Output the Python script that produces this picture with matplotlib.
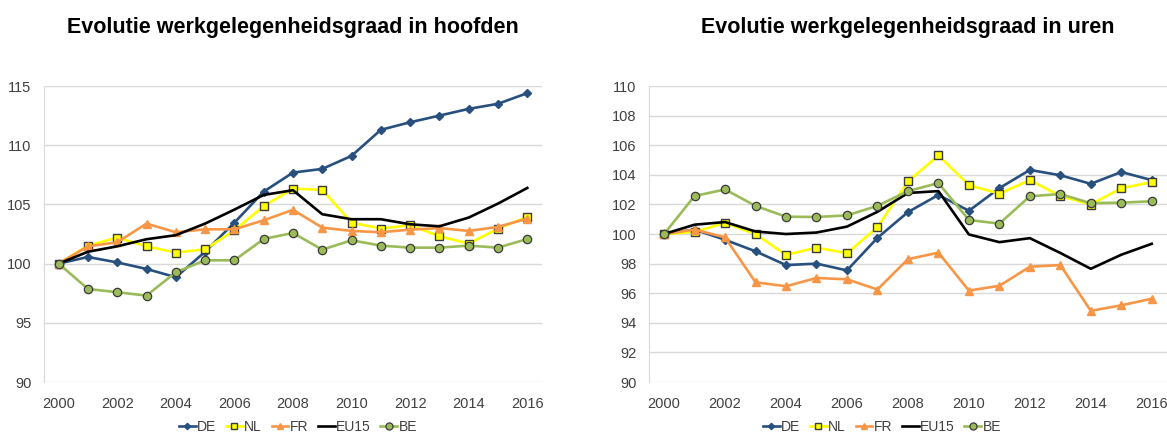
import numpy as np
import matplotlib
matplotlib.use('Agg')
import matplotlib.pyplot as plt

plt.rcParams['font.family'] = ['Liberation Sans', 'DejaVu Sans']

years = list(range(2000, 2017))

# werkgelegenheidsgraad in hoofden (2000 = 100)
de_heads = [100.0, 100.56, 100.1, 99.55, 98.85, 101.0, 103.46, 106.08, 107.69, 108.0,
            109.1, 111.3, 111.94, 112.5, 113.07, 113.5, 114.4]
nl_heads = [100.0, 101.52, 102.2, 101.46, 100.93, 101.21, 102.82, 104.85, 106.34, 106.23,
            103.46, 102.96, 103.24, 102.31, 101.69, 102.96, 103.94]
fr_heads = [100.0, 101.46, 101.8, 103.38, 102.65, 102.9, 102.9, 103.66, 104.54, 103.04,
            102.76, 102.65, 102.87, 103.0, 102.76, 103.1, 103.8]
eu15_heads = [100.0, 101.0, 101.46, 102.06, 102.4, 103.38, 104.56, 105.8, 106.2, 104.17,
              103.75, 103.75, 103.32, 103.15, 103.89, 105.07, 106.39]
be_heads = [100.0, 97.86, 97.58, 97.3, 99.27, 100.28, 100.28, 102.08, 102.59, 101.18,
            101.97, 101.52, 101.35, 101.35, 101.52, 101.35, 102.08]

# werkgelegenheidsgraad in uren (2000 = 100)
de_hours = [100.0, 100.3, 99.61, 98.83, 97.9, 98.0, 97.54, 99.74, 101.48, 102.64,
            101.57, 103.1, 104.33, 103.97, 103.39, 104.19, 103.64]
nl_hours = [100.0, 100.14, 100.75, 99.99, 98.59, 99.08, 98.7, 100.46, 103.55, 105.31,
            103.3, 102.73, 103.64, 102.57, 101.99, 103.1, 103.5]
fr_hours = [100.0, 100.3, 99.77, 96.74, 96.47, 97.03, 96.94, 96.25, 98.3, 98.74,
            96.18, 96.5, 97.79, 97.9, 94.81, 95.18, 95.63]
eu15_hours = [100.0, 100.63, 100.81, 100.17, 100.0, 100.1, 100.5, 101.5, 102.77, 102.9,
              99.97, 99.45, 99.72, 98.72, 97.65, 98.6, 99.34]
be_hours = [100.0, 102.57, 103.01, 101.9, 101.17, 101.15, 101.26, 101.9, 102.9, 103.44,
            100.95, 100.7, 102.55, 102.7, 102.08, 102.12, 102.21]

labels = ['DE', 'NL', 'FR', 'EU15', 'BE']
styles = {
    'DE': dict(color='#27507f', marker='D', markersize=3.8, markerfacecolor='#27507f',
               markeredgecolor='#27507f'),
    'NL': dict(color='#ffff00', marker='s', markersize=5.8, markerfacecolor='#ffff00',
               markeredgecolor='#3a3a3a', markeredgewidth=1.0),
    'FR': dict(color='#f79646', marker='^', markersize=5.5, markerfacecolor='#f79646',
               markeredgecolor='#f79646'),
    'EU15': dict(color='black', marker=None),
    'BE': dict(color='#9bbb59', marker='o', markersize=6, markerfacecolor='#9bbb59',
               markeredgecolor='#3a3a3a', markeredgewidth=0.9),
}

fig = plt.figure(figsize=(11.67, 4.34), dpi=100)
ax1 = fig.add_axes([0.0377, 0.1198, 0.4267, 0.682])
ax2 = fig.add_axes([0.556, 0.1198, 0.444, 0.682])


def draw(ax, series, ylim, ystep, title, legend_x):
    for lab, vals in zip(labels, series):
        ax.plot(years, vals, linewidth=1.9, label=lab, **styles[lab])
    ax.set_xlim(1999.5, 2016.5)
    ax.set_ylim(*ylim)
    ax.set_yticks(np.arange(ylim[0], ylim[1] + 0.1, ystep))
    ax.set_xticks(range(2000, 2017, 2))
    ax.grid(axis='y', color='#d9d9d9', linewidth=1.0)
    ax.set_axisbelow(True)
    for s in ['top', 'right', 'bottom']:
        ax.spines[s].set_visible(False)
    ax.spines['left'].set_color('#d9d9d9')
    ax.tick_params(axis='y', length=0, labelsize=10.5, labelcolor='#404040', pad=9)
    ax.tick_params(axis='x', length=0, labelsize=10.5, labelcolor='#404040', pad=11)
    ax.set_title(title, fontsize=15.5, fontweight='bold', pad=38)
    ax.legend(loc='center', bbox_to_anchor=(legend_x, 0.017), bbox_transform=fig.transFigure,
              ncol=5, frameon=False, borderpad=0, borderaxespad=0,
              fontsize=10, handlelength=1.2, handletextpad=0.1, columnspacing=0.7,
              markerscale=0.85, labelcolor='#404040')


draw(ax1, [de_heads, nl_heads, fr_heads, eu15_heads, be_heads], (90, 115), 5,
     'Evolutie werkgelegenheidsgraad in hoofden', 298 / 1167)
draw(ax2, [de_hours, nl_hours, fr_hours, eu15_hours, be_hours], (90, 110), 2,
     'Evolutie werkgelegenheidsgraad in uren', 882 / 1167)

fig.savefig('out.png', dpi=100)
